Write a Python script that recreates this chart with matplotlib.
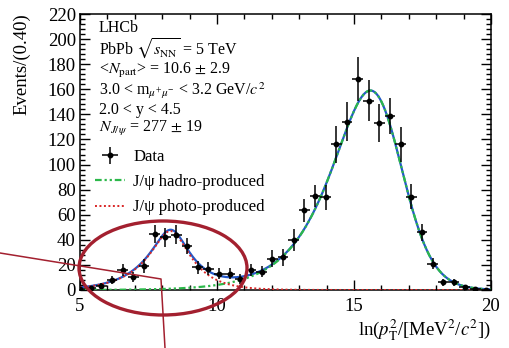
import numpy as np
import matplotlib
matplotlib.use("Agg")
import matplotlib.pyplot as plt
from matplotlib.patches import Ellipse
from matplotlib.lines import Line2D
from matplotlib.ticker import MultipleLocator

plt.rcParams["font.family"] = ["Liberation Serif", "DejaVu Serif"]
plt.rcParams["mathtext.fontset"] = "stix"

# ---- data: sWeighted J/psi candidates per ln(pT^2) bin ----
bin_start = 5.0
bin_step = 0.39
events = [1, 1.5, 3, 8, 16, 10, 19, 44.5, 42, 44, 35, 18, 17, 13, 13, 9,
          16, 14.5, 25, 26, 40, 63.5, 75, 74, 116, 134, 168.5, 151, 133,
          138.5, 116, 74.5, 46, 21, 6, 6, 2, 0.5, 0]
errors = [1.5, 1.5, 2.5, 3.5, 5, 4, 5.5, 7, 7.5, 7.5, 6.5, 5, 5, 4.5, 4.5,
          4, 5, 4.5, 6.5, 6.5, 9, 9, 9, 10, 15, 15.5, 17.5, 16.5, 15, 14.5,
          14, 10, 7, 4.5, 2.5, 2.5, 1.5, 1, 0.8]
centers = bin_start + bin_step * np.arange(len(events))

# ---- fit components (peak position, peak height, tail slopes, core width) ----
hadro_pars = dict(peak_x=15.6, peak_y=159.0, left=0.8, right=2.0, core=0.85)
photo_pars = dict(peak_x=8.3, peak_y=47.0, left=1.05, right=1.3, core=0.225)


def skewed_peak(x, peak_x, peak_y, left, right, core):
    """Generalised-logistic peak with exponential tails on both sides."""
    def logf(z):
        return left * z - (left + right) * core * np.logaddexp(0.0, z / core)
    p = left / (left + right)
    z0 = core * np.log(p / (1 - p))
    return peak_y * np.exp(logf(x - peak_x + z0) - logf(z0))


xs = np.linspace(5, 20, 800)
hadro = skewed_peak(xs, **hadro_pars)
photo = skewed_peak(xs, **photo_pars)
total = hadro + photo

W, H = 510, 348
fig = plt.figure(figsize=(W / 100, H / 100), dpi=100)
ax = fig.add_axes([80 / W, 1 - 290 / H, 411 / W, 276 / H])

ax.plot(xs, total, color="#2458c8", lw=1.6, zorder=2)
ax.plot(xs, hadro, color="#2cb84a", lw=1.6, zorder=3,
        linestyle=(0, (3, 1.3, 1, 1.3, 1, 1.3)))
ax.plot(xs, photo, color="#d92626", lw=1.4, zorder=3,
        linestyle=(0, (1, 1.3)))
ax.errorbar(centers, events, yerr=errors, xerr=bin_step / 2, fmt="o",
            color="black", ms=3.2, elinewidth=1.1, capsize=0, zorder=4,
            clip_on=True)

ax.set_xlim(5, 20)
ax.set_ylim(0, 220)
ax.xaxis.set_major_locator(MultipleLocator(5))
ax.xaxis.set_minor_locator(MultipleLocator(1))
ax.yaxis.set_major_locator(MultipleLocator(20))
ax.yaxis.set_minor_locator(MultipleLocator(4))
ax.tick_params(which="both", direction="in", top=True, right=True,
               labelsize=13.5, width=1.0)
ax.tick_params(which="major", length=7.5)
ax.tick_params(which="minor", length=3.8)
ax.tick_params(axis="x", pad=6)
ax.tick_params(axis="y", pad=3)
for s in ax.spines.values():
    s.set_linewidth(1.1)

fig.text(22 / W, 1 - 13 / H, "Events/(0.40)", rotation=90, ha="center",
         va="top", fontsize=13.5)
fig.text(491 / W, 1 - 330 / H,
         r"ln($p_{\mathrm{T}}^{2}$/[MeV$^{2}$/$c^{2}$])",
         ha="right", va="center", fontsize=13.5)

info = [
    (27.5, "LHCb"),
    (49, r"PbPb $\sqrt{s_{\mathrm{NN}}}$ = 5 TeV"),
    (70.5, r"<$N_{\mathrm{part}}$> = 10.6 $\pm$ 2.9"),
    (90.5, r"3.0 < m$_{\mu^{+}\mu^{-}}$ < 3.2 GeV/$c^{2}$"),
    (110, r"2.0 < y < 4.5"),
    (129, r"$N_{J/\psi}$ = 277 $\pm$ 19"),
]
for ypx, txt in info:
    fig.text(99 / W, 1 - ypx / H, txt, ha="left", va="center", fontsize=11.5)

handles = [
    ax.errorbar([], [], yerr=[], xerr=[], fmt="o", color="black", ms=3.2,
                elinewidth=1.1, capsize=2),
    Line2D([], [], color="#2cb84a", lw=1.6,
           linestyle=(0, (3, 1.3, 1, 1.3, 1, 1.3))),
    Line2D([], [], color="#d92626", lw=1.4, linestyle=(0, (1, 1.3))),
]
labels = ["Data", "J/\u03c8 hadro-produced", "J/\u03c8 photo-produced"]
ax.legend(handles, labels, loc="upper left", bbox_to_anchor=(0.02, 0.535),
          frameon=False, fontsize=12, handlelength=1.8, handletextpad=0.5,
          labelspacing=0.55, borderaxespad=0)

# highlight of the low-pT photoproduction peak
mark = "#a3202f"
fig.add_artist(Ellipse((163 / W, 1 - 268 / H), 168 / W, 94 / H,
                       transform=fig.transFigure, fill=False,
                       edgecolor=mark, lw=2.4, zorder=10))
fig.add_artist(Line2D([0 / W, 161 / W, 165 / W],
                      [1 - 253 / H, 1 - 279 / H, 1 - 348 / H],
                      transform=fig.transFigure, color=mark, lw=1.1,
                      zorder=10))

fig.savefig("out.png", dpi=100)
